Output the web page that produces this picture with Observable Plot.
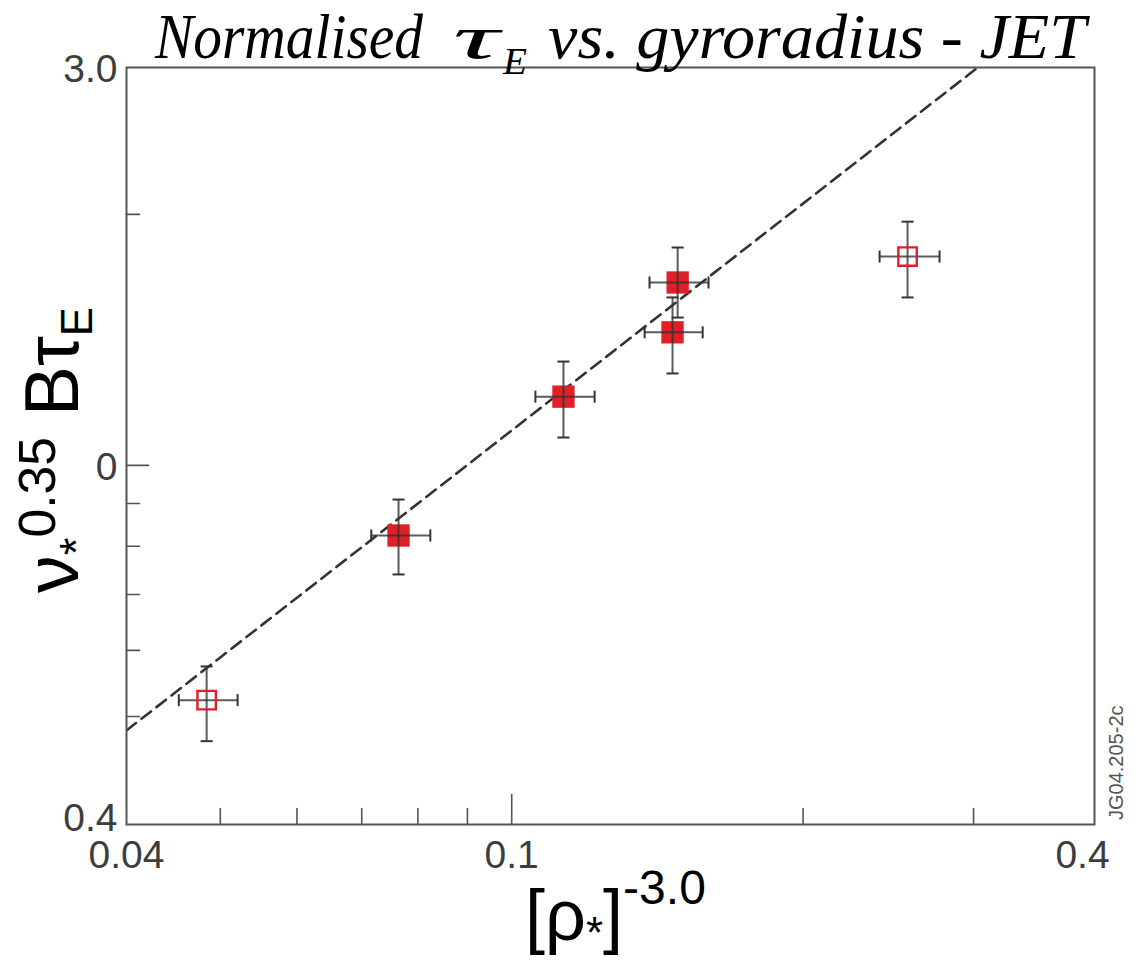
<!DOCTYPE html>
<html>
<head>
<meta charset="utf-8">
<script src="https://cdn.jsdelivr.net/npm/d3@7"></script>
<script src="https://cdn.jsdelivr.net/npm/@observablehq/plot@0.6"></script>
<style>
  body { margin: 0; background: #fff; }
  #wrap { position: relative; width: 1135px; height: 960px; overflow: hidden; background: #fff; }
  #wrap > svg { position: absolute; left: 0; top: 0; }
</style>
</head>
<body>
<div id="wrap"></div>
<script>
// ---- data ----
const rhoStar   = [0.0484, 0.0764, 0.1131, 0.1466, 0.1484, 0.2564];
const rhoLo     = [0.0453, 0.0716, 0.1058, 0.1372, 0.1388, 0.2399];
const rhoHi     = [0.0521, 0.0824, 0.1218, 0.1575, 0.1597, 0.2767];
const tauNorm   = [0.523, 0.824, 1.209, 1.444, 1.657, 1.780];
const tauLo     = [0.467, 0.740, 1.080, 1.289, 1.504, 1.590];
const tauHi     = [0.574, 0.910, 1.332, 1.590, 1.825, 1.960];
const isFilled  = [false, true, true, true, true, false];

const fitX = [0.04, 0.303];
const fitY = [0.481, 3.0];

const xDomain = [0.04, 0.4];
const yDomain = [0.371, 3.0];
const xTicksMajor = [0.1];
const xTicksMinor = [0.05, 0.06, 0.07, 0.08, 0.09, 0.2, 0.3];
const xTickValues = [0.04, 0.1, 0.4];
const xTickLabels = ["0.04", "0.1", "0.4"];
const yTicksMajor = [1.0];
const yTicksMinor = [0.5, 0.6, 0.7, 0.8, 0.9, 2.0];
const yTickValues = [3.0, 1.0, 0.371];
const yTickLabels = ["3.0", "0", "0.4"];

// ---- derived tables ----
const pts = rhoStar.map((x, i) => ({
  x, xlo: rhoLo[i], xhi: rhoHi[i],
  y: tauNorm[i], ylo: tauLo[i], yhi: tauHi[i],
  filled: isFilled[i]
}));
const fit = fitX.map((x, i) => ({x, y: fitY[i]}));
const xLabels = xTickValues.map((v, i) => ({v, label: xTickLabels[i]}));
const yLabels = yTickValues.map((v, i) => ({v, label: yTickLabels[i]}));

const RED = "#e01f27";
const BAR = "#333333";
const AXIS = "#555555";
const LABEL = "#3d3d3d";

const hCap = {draw(c, size) { const w = Math.sqrt(size); c.moveTo(-w / 2, 0); c.lineTo(w / 2, 0); }};
const vCap = {draw(c, size) { const w = Math.sqrt(size); c.moveTo(0, -w / 2); c.lineTo(0, w / 2); }};
const upTick = {draw(c, l) { c.moveTo(0, 0); c.lineTo(0, -l); }};
const rightTick = {draw(c, l) { c.moveTo(0, 0); c.lineTo(l, 0); }};

const capR = 6.8;

const chart = Plot.plot({
  width: 1135,
  height: 960,
  marginTop: 67,
  marginBottom: 136,
  marginLeft: 126,
  marginRight: 41,
  style: {fontFamily: "'Liberation Sans', Arial, sans-serif", background: "transparent", overflow: "visible"},
  x: {type: "log", domain: xDomain, axis: null},
  y: {type: "log", domain: yDomain, axis: null},
  marks: [
    // ticks (inward)
    Plot.vector(xTicksMinor, {x: d => d, frameAnchor: "bottom", length: 16, anchor: "start", shape: upTick, stroke: AXIS, strokeWidth: 1.6}),
    Plot.vector(xTicksMajor, {x: d => d, frameAnchor: "bottom", length: 30, anchor: "start", shape: upTick, stroke: AXIS, strokeWidth: 1.6}),
    Plot.vector(yTicksMinor, {y: d => d, frameAnchor: "left", length: 13, anchor: "start", shape: rightTick, stroke: AXIS, strokeWidth: 1.6}),
    Plot.vector(yTicksMajor, {y: d => d, frameAnchor: "left", length: 22, anchor: "start", shape: rightTick, stroke: AXIS, strokeWidth: 1.6}),
    // tick labels
    Plot.text(xLabels.filter(d => d.v < 0.3), {x: "v", frameAnchor: "bottom", dy: 43, text: "label", fontSize: 39, fill: LABEL}),
    Plot.text(xLabels.filter(d => d.v >= 0.3), {x: "v", frameAnchor: "bottom", dy: 43, dx: -12, text: "label", fontSize: 39, fill: LABEL}),
    Plot.text(yLabels.filter(d => d.v > 0.5), {y: "v", frameAnchor: "left", dx: -9, dy: 2, textAnchor: "end", text: "label", fontSize: 39, fill: LABEL}),
    Plot.text(yLabels.filter(d => d.v <= 0.5), {y: "v", frameAnchor: "left", dx: -9, dy: -6, textAnchor: "end", text: "label", fontSize: 39, fill: LABEL}),
    // fit line
    Plot.line(fit, {x: "x", y: "y", stroke: BAR, strokeWidth: 2.6, strokeDasharray: "12,7", clip: true}),
    // filled squares
    Plot.dot(pts.filter(d => d.filled), {x: "x", y: "y", symbol: "square", r: 12.6, fill: RED, stroke: "none"}),
    // error bars
    Plot.ruleX(pts, {x: "x", y1: "ylo", y2: "yhi", stroke: BAR, strokeWidth: 2, strokeOpacity: 0.8}),
    Plot.ruleY(pts, {y: "y", x1: "xlo", x2: "xhi", stroke: BAR, strokeWidth: 2, strokeOpacity: 0.8}),
    Plot.dot(pts, {x: "x", y: "ylo", symbol: hCap, r: capR, fill: "none", stroke: BAR, strokeWidth: 2}),
    Plot.dot(pts, {x: "x", y: "yhi", symbol: hCap, r: capR, fill: "none", stroke: BAR, strokeWidth: 2}),
    Plot.dot(pts, {x: "xlo", y: "y", symbol: vCap, r: capR, fill: "none", stroke: BAR, strokeWidth: 2}),
    Plot.dot(pts, {x: "xhi", y: "y", symbol: vCap, r: capR, fill: "none", stroke: BAR, strokeWidth: 2}),
    // open squares
    Plot.dot(pts.filter(d => !d.filled), {x: "x", y: "y", symbol: "square", r: 10.4, fill: "none", stroke: RED, strokeWidth: 2.4}),
    Plot.frame({stroke: AXIS, strokeWidth: 2})
  ]
});

const wrap = document.getElementById("wrap");
wrap.appendChild(chart);

// ---- titles and axis labels (overlay) ----
const ns = "http://www.w3.org/2000/svg";
const overlay = document.createElementNS(ns, "svg");
overlay.setAttribute("width", 1135);
overlay.setAttribute("height", 960);
const serif = "'Liberation Serif', 'Times New Roman', serif";
const sans = "'Liberation Sans', Arial, sans-serif";
overlay.innerHTML = `
  <g style="white-space:pre" fill="#000">
    <text x="155" y="58" font-family="${serif}" font-style="italic" font-size="64" textLength="268" lengthAdjust="spacingAndGlyphs">Normalised</text>
    <text x="453" y="58" font-family="${serif}" font-style="italic" font-size="62" textLength="46" lengthAdjust="spacingAndGlyphs">τ</text>
    <text x="503" y="74" font-family="${serif}" font-style="italic" font-size="38" textLength="24" lengthAdjust="spacingAndGlyphs">E</text>
    <text x="548" y="58" font-family="${serif}" font-style="italic" font-size="64" textLength="538" lengthAdjust="spacingAndGlyphs">vs. gyroradius - JET</text>
    <text transform="translate(525,940)" font-family="${sans}" font-size="72">[ρ<tspan font-size="44" dy="8">*</tspan><tspan dy="-8">]</tspan><tspan font-size="48" dy="-36">-3.0</tspan></text>
    <text transform="translate(78,593) rotate(-90)" font-family="${sans}" font-size="76" textLength="286" lengthAdjust="spacingAndGlyphs">ν<tspan font-size="46" dy="14">*</tspan><tspan font-size="52" dy="-37">0.35</tspan><tspan dy="23"> B</tspan>τ<tspan font-size="44" dy="14">E</tspan></text>
    <text transform="translate(1123,820) rotate(-90)" font-family="${sans}" font-size="20" fill="#555">JG04.205-2c</text>
  </g>`;
wrap.appendChild(overlay);
</script>
</body>
</html>
